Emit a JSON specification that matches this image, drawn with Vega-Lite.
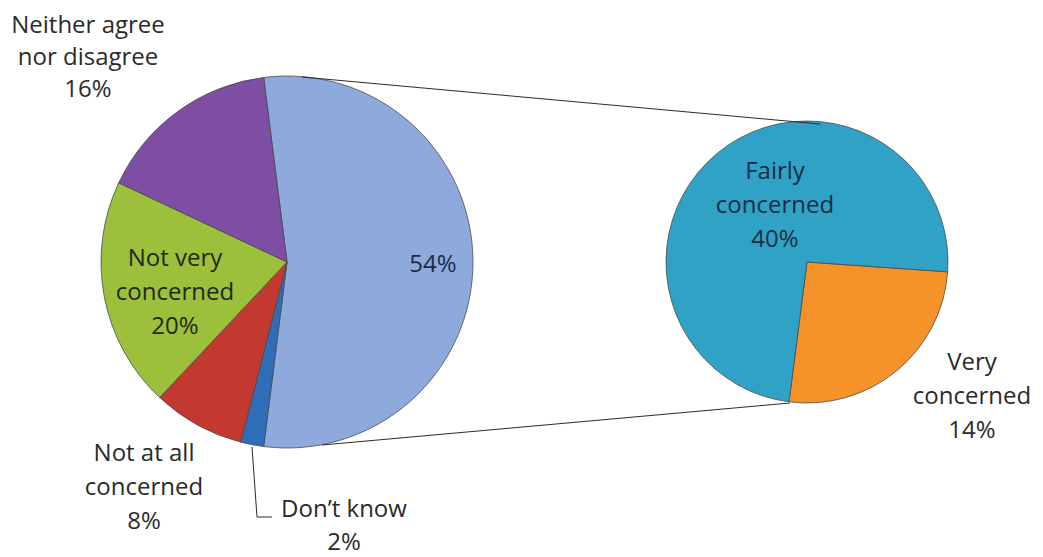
{
  "$schema": "https://vega.github.io/schema/vega-lite/v6.json",
  "width": 1043,
  "height": 557,
  "padding": 0,
  "autosize": {"type": "fit", "contains": "padding"},
  "background": "white",
  "config": {"view": {"stroke": null}, "font": "Open Sans"},
  "datasets": {
    "main": [
      {"category": "Concerned", "value": 54, "order": 1, "label": "54%"},
      {"category": "Don’t know", "value": 2, "order": 2, "label": "Don’t know\n2%"},
      {"category": "Not at all concerned", "value": 8, "order": 3, "label": "Not at all\nconcerned\n8%"},
      {"category": "Not very concerned", "value": 20, "order": 4, "label": "Not very\nconcerned\n20%"},
      {"category": "Neither agree nor disagree", "value": 16, "order": 5, "label": "Neither agree\nnor disagree\n16%"}
    ],
    "sub": [
      {"category": "Very concerned", "value": 14, "order": 1, "label": "Very\nconcerned\n14%"},
      {"category": "Fairly concerned", "value": 40, "order": 2, "label": "Fairly\nconcerned\n40%"}
    ],
    "one": [{"item": "connector"}]
  },
  "layer": [
    {
      "data": {"name": "main"},
      "mark": {"type": "arc", "outerRadius": 186, "stroke": "#4a4a4a", "strokeWidth": 0.8},
      "encoding": {
        "x": {"datum": 287, "type": "quantitative", "scale": {"domain": [0, 1043], "nice": false, "zero": false}, "axis": null},
        "y": {"datum": 262, "type": "quantitative", "scale": {"domain": [0, 557], "nice": false, "zero": false, "reverse": true}, "axis": null},
        "theta": {"field": "value", "type": "quantitative", "stack": true, "scale": {"range": [-0.125664, 6.157522]}},
        "order": {"field": "order", "type": "quantitative"},
        "color": {"field": "category", "type": "nominal", "legend": null,
          "scale": {"domain": ["Concerned", "Don’t know", "Not at all concerned", "Not very concerned", "Neither agree nor disagree", "Very concerned", "Fairly concerned"],
                    "range": ["#8EAADC", "#2E6EB8", "#C3392F", "#9CC03B", "#7D4EA3", "#F5922A", "#30A2C6"]}}
      }
    },
    {
      "data": {"name": "sub"},
      "mark": {"type": "arc", "outerRadius": 141, "stroke": "#4a4a4a", "strokeWidth": 0.8},
      "encoding": {
        "x": {"datum": 807, "type": "quantitative", "scale": {"domain": [0, 1043], "nice": false, "zero": false}, "axis": null},
        "y": {"datum": 262, "type": "quantitative", "scale": {"domain": [0, 557], "nice": false, "zero": false, "reverse": true}, "axis": null},
        "theta": {"field": "value", "type": "quantitative", "stack": true, "scale": {"range": [1.64061, 7.92380]}},
        "order": {"field": "order", "type": "quantitative"},
        "color": {"field": "category", "type": "nominal", "legend": null,
          "scale": {"domain": ["Concerned", "Don’t know", "Not at all concerned", "Not very concerned", "Neither agree nor disagree", "Very concerned", "Fairly concerned"],
                    "range": ["#8EAADC", "#2E6EB8", "#C3392F", "#9CC03B", "#7D4EA3", "#F5922A", "#30A2C6"]}}
      }
    },
    {
      "data": {"name": "one"},
      "mark": {"type": "rule", "stroke": "#2b2b2b", "strokeWidth": 1},
      "encoding": {
        "x": {"datum": 302, "type": "quantitative", "scale": {"domain": [0, 1043], "nice": false, "zero": false}, "axis": null},
        "y": {"datum": 77, "type": "quantitative", "scale": {"domain": [0, 557], "nice": false, "zero": false, "reverse": true}, "axis": null},
        "x2": {"datum": 820},
        "y2": {"datum": 124}
      }
    },
    {
      "data": {"name": "one"},
      "mark": {"type": "rule", "stroke": "#2b2b2b", "strokeWidth": 1},
      "encoding": {
        "x": {"datum": 322, "type": "quantitative", "scale": {"domain": [0, 1043], "nice": false, "zero": false}, "axis": null},
        "y": {"datum": 445, "type": "quantitative", "scale": {"domain": [0, 557], "nice": false, "zero": false, "reverse": true}, "axis": null},
        "x2": {"datum": 790},
        "y2": {"datum": 403}
      }
    },
    {
      "data": {"name": "one"},
      "mark": {"type": "rule", "stroke": "#2b2b2b", "strokeWidth": 1},
      "encoding": {
        "x": {"datum": 252, "type": "quantitative", "scale": {"domain": [0, 1043], "nice": false, "zero": false}, "axis": null},
        "y": {"datum": 447, "type": "quantitative", "scale": {"domain": [0, 557], "nice": false, "zero": false, "reverse": true}, "axis": null},
        "x2": {"datum": 257},
        "y2": {"datum": 517}
      }
    },
    {
      "data": {"name": "one"},
      "mark": {"type": "rule", "stroke": "#2b2b2b", "strokeWidth": 1},
      "encoding": {
        "x": {"datum": 257, "type": "quantitative", "scale": {"domain": [0, 1043], "nice": false, "zero": false}, "axis": null},
        "y": {"datum": 517, "type": "quantitative", "scale": {"domain": [0, 557], "nice": false, "zero": false, "reverse": true}, "axis": null},
        "x2": {"datum": 272},
        "y2": {"datum": 517}
      }
    },
    {
      "data": {"name": "main"},
      "transform": [{"filter": "datum.order == 1"}],
      "mark": {"type": "text", "lineBreak": "\n", "fontSize": 24, "lineHeight": 34, "align": "center", "baseline": "middle", "color": "#1d2a45"},
      "encoding": {
        "x": {"datum": 433, "type": "quantitative", "scale": {"domain": [0, 1043], "nice": false, "zero": false}, "axis": null},
        "y": {"datum": 265, "type": "quantitative", "scale": {"domain": [0, 557], "nice": false, "zero": false, "reverse": true}, "axis": null},
        "text": {"field": "label"}
      }
    },
    {
      "data": {"name": "main"},
      "transform": [{"filter": "datum.order == 2"}],
      "mark": {"type": "text", "lineBreak": "\n", "fontSize": 24, "lineHeight": 33, "align": "center", "baseline": "middle", "color": "#2a2a2a"},
      "encoding": {
        "x": {"datum": 344, "type": "quantitative", "scale": {"domain": [0, 1043], "nice": false, "zero": false}, "axis": null},
        "y": {"datum": 510, "type": "quantitative", "scale": {"domain": [0, 557], "nice": false, "zero": false, "reverse": true}, "axis": null},
        "text": {"field": "label"}
      }
    },
    {
      "data": {"name": "main"},
      "transform": [{"filter": "datum.order == 3"}],
      "mark": {"type": "text", "lineBreak": "\n", "fontSize": 24, "lineHeight": 34, "align": "center", "baseline": "middle", "color": "#2a2a2a"},
      "encoding": {
        "x": {"datum": 144, "type": "quantitative", "scale": {"domain": [0, 1043], "nice": false, "zero": false}, "axis": null},
        "y": {"datum": 454, "type": "quantitative", "scale": {"domain": [0, 557], "nice": false, "zero": false, "reverse": true}, "axis": null},
        "text": {"field": "label"}
      }
    },
    {
      "data": {"name": "main"},
      "transform": [{"filter": "datum.order == 4"}],
      "mark": {"type": "text", "lineBreak": "\n", "fontSize": 24, "lineHeight": 34, "align": "center", "baseline": "middle", "color": "#1f2a12"},
      "encoding": {
        "x": {"datum": 175, "type": "quantitative", "scale": {"domain": [0, 1043], "nice": false, "zero": false}, "axis": null},
        "y": {"datum": 259, "type": "quantitative", "scale": {"domain": [0, 557], "nice": false, "zero": false, "reverse": true}, "axis": null},
        "text": {"field": "label"}
      }
    },
    {
      "data": {"name": "main"},
      "transform": [{"filter": "datum.order == 5"}],
      "mark": {"type": "text", "lineBreak": "\n", "fontSize": 24, "lineHeight": 32, "align": "center", "baseline": "middle", "color": "#2a2a2a"},
      "encoding": {
        "x": {"datum": 88, "type": "quantitative", "scale": {"domain": [0, 1043], "nice": false, "zero": false}, "axis": null},
        "y": {"datum": 26, "type": "quantitative", "scale": {"domain": [0, 557], "nice": false, "zero": false, "reverse": true}, "axis": null},
        "text": {"field": "label"}
      }
    },
    {
      "data": {"name": "sub"},
      "transform": [{"filter": "datum.order == 2"}],
      "mark": {"type": "text", "lineBreak": "\n", "fontSize": 24, "lineHeight": 34, "align": "center", "baseline": "middle", "color": "#1b2d45"},
      "encoding": {
        "x": {"datum": 775, "type": "quantitative", "scale": {"domain": [0, 1043], "nice": false, "zero": false}, "axis": null},
        "y": {"datum": 172, "type": "quantitative", "scale": {"domain": [0, 557], "nice": false, "zero": false, "reverse": true}, "axis": null},
        "text": {"field": "label"}
      }
    },
    {
      "data": {"name": "sub"},
      "transform": [{"filter": "datum.order == 1"}],
      "mark": {"type": "text", "lineBreak": "\n", "fontSize": 24, "lineHeight": 34, "align": "center", "baseline": "middle", "color": "#2a2a2a"},
      "encoding": {
        "x": {"datum": 972, "type": "quantitative", "scale": {"domain": [0, 1043], "nice": false, "zero": false}, "axis": null},
        "y": {"datum": 363, "type": "quantitative", "scale": {"domain": [0, 557], "nice": false, "zero": false, "reverse": true}, "axis": null},
        "text": {"field": "label"}
      }
    }
  ],
  "resolve": {"scale": {"theta": "independent"}}
}
